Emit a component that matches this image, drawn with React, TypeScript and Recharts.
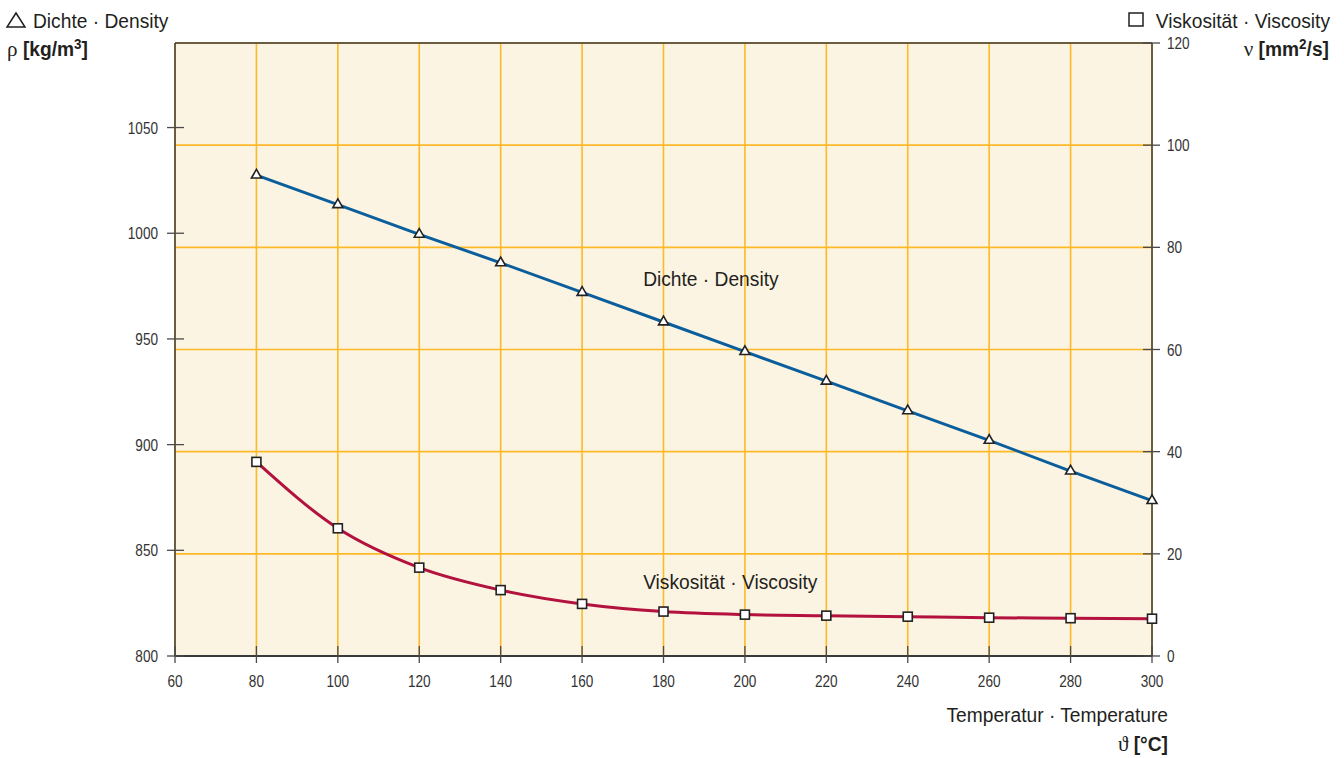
import React from 'react';
import {
  ComposedChart,
  Line,
  XAxis,
  YAxis,
  CartesianGrid,
  ReferenceLine,
  ReferenceDot,
} from 'recharts';

// ---- data ----
const temperatures = [80, 100, 120, 140, 160, 180, 200, 220, 240, 260, 280, 300];
const density = [1027.5, 1013.5, 999.5, 986, 972, 958, 944, 930, 916, 902, 887.5, 873.5];
const viscosity = [38.0, 25.0, 17.3, 12.9, 10.2, 8.7, 8.1, 7.9, 7.7, 7.5, 7.4, 7.3];

const xTicks = [60, 80, 100, 120, 140, 160, 180, 200, 220, 240, 260, 280, 300];
const densityTicks = [800, 850, 900, 950, 1000, 1050];
const viscosityTicks = [0, 20, 40, 60, 80, 100, 120];

const data = temperatures.map((t, i) => ({
  t,
  density: density[i],
  viscosity: viscosity[i],
}));

const SANS = '"Liberation Sans", Arial, Helvetica, sans-serif';
const SERIF = '"Liberation Serif", "DejaVu Serif", "Times New Roman", serif';
const TEXT = '#231F20';
const TICK_TEXT = '#333333';
const AXIS = '#3a3a3a';
const GRID = '#FDB927';
const BG = '#FCF4E2';
const BLUE = '#0B5E9C';
const RED = '#B3123F';

const TICK_FS = 17;
const TICK_SX = 0.8;
const BIG_FS = 20;
const BIG_SX = 0.96;

const LeftTick = (props: any) => {
  const { x, y, payload } = props;
  return (
    <g>
      <line x1={x - 8} x2={x + 9} y1={y} y2={y} stroke="#4a4a4a" strokeWidth={1.3} />
      <text
        transform={`translate(${x - 17},${y + 6}) scale(${TICK_SX},1)`}
        textAnchor="end"
        fontSize={TICK_FS}
        fontFamily={SANS}
        fill={TICK_TEXT}
      >
        {payload.value}
      </text>
    </g>
  );
};

const RightTick = (props: any) => {
  const { x, y, payload } = props;
  return (
    <g>
      <line x1={x - 9} x2={x + 8} y1={y} y2={y} stroke="#4a4a4a" strokeWidth={1.3} />
      <text
        transform={`translate(${x + 15},${y + 6}) scale(${TICK_SX},1)`}
        textAnchor="start"
        fontSize={TICK_FS}
        fontFamily={SANS}
        fill={TICK_TEXT}
      >
        {payload.value}
      </text>
    </g>
  );
};

const BottomTick = (props: any) => {
  const { x, y, payload } = props;
  return (
    <g>
      <line x1={x} x2={x} y1={y - 10} y2={y + 7} stroke="#4a4a4a" strokeWidth={1.3} />
      <text
        transform={`translate(${x},${y + 31}) scale(${TICK_SX},1)`}
        textAnchor="middle"
        fontSize={TICK_FS}
        fontFamily={SANS}
        fill={TICK_TEXT}
      >
        {payload.value}
      </text>
    </g>
  );
};

const TriangleDot = (props: any) => {
  const { cx, cy } = props;
  if (cx == null || cy == null) return null;
  const pts = `${cx},${cy - 5.8} ${cx - 5},${cy + 2.9} ${cx + 5},${cy + 2.9}`;
  return <polygon points={pts} fill="#ffffff" stroke="#222" strokeWidth={1.6} strokeLinejoin="miter" />;
};

const SquareDot = (props: any) => {
  const { cx, cy } = props;
  if (cx == null || cy == null) return null;
  return <rect x={cx - 4.5} y={cy - 4.5} width={9} height={9} fill="#ffffff" stroke="#222" strokeWidth={1.6} />;
};

const InnerLabel = (text: string) => (props: any) => {
  const { cx, cy } = props;
  return (
    <text
      transform={`translate(${cx},${cy}) scale(${BIG_SX},1)`}
      textAnchor="start"
      fontSize={BIG_FS}
      fontFamily={SANS}
      fill={TEXT}
    >
      {text}
    </text>
  );
};

export default function App() {
  return (
    <div style={{ position: 'absolute', left: 0, top: 0, width: 1344, height: 758, background: '#fff' }}>
      <ComposedChart
        width={1344}
        height={758}
        data={data}
        margin={{ top: 43, right: 0, bottom: 0, left: 0 }}
      >
        <CartesianGrid
          yAxisId="right"
          stroke={GRID}
          strokeWidth={1.6}
          fill={BG}
          fillOpacity={1}
        />
        <XAxis
          dataKey="t"
          type="number"
          domain={[60, 300]}
          ticks={xTicks}
          height={102}
          tickSize={0}
          tickMargin={0}
          tickLine={false}
          axisLine={{ stroke: AXIS, strokeWidth: 2 }}
          tick={<BottomTick />}
          interval={0}
        />
        <YAxis
          yAxisId="left"
          orientation="left"
          width={175}
          domain={[800, 1090]}
          ticks={densityTicks}
          tickSize={0}
          tickMargin={0}
          tickLine={false}
          axisLine={{ stroke: AXIS, strokeWidth: 1.5 }}
          tick={<LeftTick />}
          interval={0}
        />
        <YAxis
          yAxisId="right"
          orientation="right"
          width={192}
          domain={[0, 120]}
          ticks={viscosityTicks}
          tickSize={0}
          tickMargin={0}
          tickLine={false}
          axisLine={{ stroke: AXIS, strokeWidth: 1.5 }}
          tick={<RightTick />}
          interval={0}
        />
        <ReferenceLine yAxisId="left" y={1090} stroke={AXIS} strokeWidth={1.5} />
        <Line
          yAxisId="left"
          dataKey="density"
          type="linear"
          stroke={BLUE}
          strokeWidth={3}
          dot={(p: any) => <TriangleDot key={`d${p.index}`} {...p} />}
          isAnimationActive={false}
        />
        <Line
          yAxisId="right"
          dataKey="viscosity"
          type="monotone"
          stroke={RED}
          strokeWidth={3}
          dot={(p: any) => <SquareDot key={`v${p.index}`} {...p} />}
          isAnimationActive={false}
        />
        <ReferenceDot yAxisId="left" x={175} y={975} r={0} shape={InnerLabel('Dichte · Density')} />
        <ReferenceDot yAxisId="right" x={175} y={13.1} r={0} shape={InnerLabel('Viskosität · Viscosity')} />
      </ComposedChart>

      <svg
        width={1344}
        height={758}
        style={{ position: 'absolute', left: 0, top: 0, pointerEvents: 'none' }}
      >
        {/* left header */}
        <polygon points="7,27 25,27 16,13" fill="none" stroke={TEXT} strokeWidth={1.5} />
        <text
          transform={`translate(33,28) scale(${BIG_SX},1)`}
          fontSize={BIG_FS}
          fontFamily={SANS}
          fill={TEXT}
        >
          Dichte · Density
        </text>
        <text transform={`translate(7,56) scale(${BIG_SX},1)`} fontSize={BIG_FS} fontFamily={SANS} fill={TEXT}>
          <tspan fontFamily={SERIF} fontSize={22}>ρ</tspan>
          <tspan fontWeight="bold"> [kg/m</tspan>
          <tspan fontWeight="bold" fontSize={14} dy={-7}>3</tspan>
          <tspan fontWeight="bold" dy={7}>]</tspan>
        </text>

        {/* right header */}
        <rect x={1129} y={13} width={14} height={13} fill="none" stroke={TEXT} strokeWidth={1.5} />
        <text
          transform={`translate(1330,28) scale(${BIG_SX},1)`}
          textAnchor="end"
          fontSize={BIG_FS}
          fontFamily={SANS}
          fill={TEXT}
        >
          Viskosität · Viscosity
        </text>
        <text
          transform={`translate(1329,56) scale(${BIG_SX},1)`}
          textAnchor="end"
          fontSize={BIG_FS}
          fontFamily={SANS}
          fill={TEXT}
        >
          <tspan fontFamily={SERIF} fontSize={22}>ν</tspan>
          <tspan fontWeight="bold"> [mm</tspan>
          <tspan fontWeight="bold" fontSize={14} dy={-7}>2</tspan>
          <tspan fontWeight="bold" dy={7}>/s]</tspan>
        </text>

        {/* x axis title */}
        <text
          transform={`translate(1168,722) scale(${BIG_SX},1)`}
          textAnchor="end"
          fontSize={BIG_FS}
          fontFamily={SANS}
          fill={TEXT}
        >
          Temperatur · Temperature
        </text>
        <text
          transform={`translate(1168,751) scale(${BIG_SX},1)`}
          textAnchor="end"
          fontSize={BIG_FS}
          fontFamily={SANS}
          fill={TEXT}
        >
          <tspan fontFamily={SERIF} fontSize={22}>ϑ</tspan>
          <tspan fontWeight="bold"> [°C]</tspan>
        </text>
      </svg>
    </div>
  );
}
